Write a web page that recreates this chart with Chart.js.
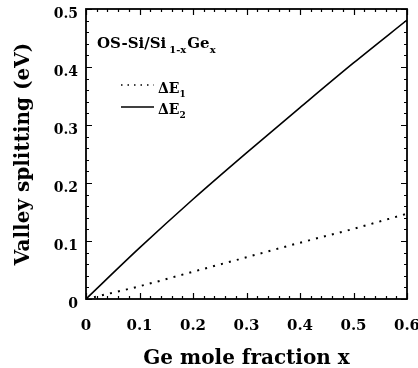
<!DOCTYPE html>
<html>
<head>
<meta charset="utf-8">
<script src="https://cdn.jsdelivr.net/npm/chart.js@4.4.1/dist/chart.umd.min.js"></script>
<style>
html, body { margin: 0; padding: 0; background: #fff; }
#wrap { width: 418px; height: 368px; position: relative; }
</style>
</head>
<body>
<div id="wrap"><canvas id="chart"></canvas></div>
<script>
// Ge mole fraction (x axis)
const geFraction = [0, 0.1, 0.2, 0.3, 0.4, 0.5, 0.6];
// valley splitting in eV: dE1 dotted, dE2 solid
const deltaE1 = [0, 0.022, 0.047, 0.072, 0.097, 0.121, 0.147];
const deltaE2 = [0, 0.088, 0.172, 0.252, 0.330, 0.407, 0.481];
const xTicks = [0, 0.1, 0.2, 0.3, 0.4, 0.5, 0.6];
const yTicks = [0, 0.1, 0.2, 0.3, 0.4, 0.5];

const SERIF = '"DejaVu Serif", "Liberation Serif", serif';

function toPoints(xs, ys) {
    return xs.map((x, i) => ({ x: x, y: ys[i] }));
}

// draw text with subscripts: runs of [text, size, dy, gap]
function drawRuns(ctx, x, y, runs) {
    runs.forEach(r => {
        ctx.font = 'bold ' + r[1] + 'px ' + SERIF;
        ctx.fillText(r[0], x, y + r[2]);
        x += ctx.measureText(r[0]).width + (r[3] || 0);
    });
}

// frame, inward ticks, legend and label inside plot
const framePlugin = {
    id: 'framePlugin',
    afterDraw(chart) {
        const { ctx, chartArea: a, scales: { x, y } } = chart;
        ctx.save();
        ctx.strokeStyle = '#000';
        ctx.lineWidth = 1.2;
        ctx.beginPath();
        for (let i = 0; i <= 30; i++) {
            const px = Math.round(x.getPixelForValue(i * 0.02)) + 0.5;
            const len = i % 5 === 0 ? 6 : 3;
            ctx.moveTo(px, a.bottom); ctx.lineTo(px, a.bottom - len);
            ctx.moveTo(px, a.top); ctx.lineTo(px, a.top + len);
        }
        for (let i = 0; i <= 25; i++) {
            const py = Math.round(y.getPixelForValue(i * 0.02)) + 0.5;
            const len = i % 5 === 0 ? 6 : 3;
            ctx.moveTo(a.left, py); ctx.lineTo(a.left + len, py);
            ctx.moveTo(a.right, py); ctx.lineTo(a.right - len, py);
        }
        ctx.stroke();
        ctx.lineWidth = 1.8;
        ctx.strokeRect(a.left, a.top, a.width, a.height);

        // inner label
        ctx.fillStyle = '#000';
        ctx.textBaseline = 'alphabetic';
        ctx.textAlign = 'left';
        drawRuns(ctx, a.left + 11, a.top + 39, [
            ['OS-Si/Si', 15, 0, 3], ['1-x', 10, 5, 1], ['Ge', 15, 0], ['x', 10, 5]
        ]);

        // legend
        const lx0 = a.left + 35, lx1 = a.left + 68;
        ctx.lineWidth = 1.5;
        ctx.setLineDash([1.5, 5]);
        ctx.beginPath();
        ctx.moveTo(lx0, a.top + 76); ctx.lineTo(lx1, a.top + 76);
        ctx.stroke();
        ctx.setLineDash([]);
        ctx.beginPath();
        ctx.moveTo(lx0, a.top + 98); ctx.lineTo(lx1, a.top + 98);
        ctx.stroke();
        drawRuns(ctx, lx1 + 4, a.top + 84, [['\u0394E', 14, 0], ['1', 9, 4]]);
        drawRuns(ctx, lx1 + 4, a.top + 105, [['\u0394E', 14, 0], ['2', 9, 4]]);
        ctx.restore();
    }
};

new Chart(document.getElementById('chart'), {
    type: 'line',
    data: {
        datasets: [
            {
                label: '\u0394E1',
                data: toPoints(geFraction, deltaE1),
                borderColor: '#000',
                borderWidth: 2,
                borderDash: [2, 6.2],
                pointRadius: 0,
                cubicInterpolationMode: 'monotone',
                fill: false
            },
            {
                label: '\u0394E2',
                data: toPoints(geFraction, deltaE2),
                borderColor: '#000',
                borderWidth: 1.6,
                pointRadius: 0,
                cubicInterpolationMode: 'monotone',
                fill: false
            }
        ]
    },
    options: {
        responsive: true,
        maintainAspectRatio: false,
        animation: false,
        events: [],
        layout: { padding: { left: 0, top: 9, right: 11, bottom: 0 } },
        plugins: { legend: { display: false }, tooltip: { enabled: false } },
        scales: {
            x: {
                type: 'linear',
                min: 0,
                max: 0.6,
                afterBuildTicks: s => { s.ticks = xTicks.map(v => ({ value: v })); },
                afterFit: s => { s.height = 69; s.paddingLeft = 0; s.paddingRight = 0; },
                grid: { display: false, drawTicks: false },
                border: { display: false },
                ticks: {
                    color: '#000',
                    padding: 18,
                    maxRotation: 0,
                    autoSkip: false,
                    font: { family: SERIF, size: 15, weight: 'bold' }
                },
                title: {
                    display: true,
                    text: 'Ge mole fraction x',
                    color: '#000',
                    padding: { top: 0, bottom: -3 },
                    font: { family: SERIF, size: 20, weight: 'bold' }
                }
            },
            y: {
                type: 'linear',
                min: 0,
                max: 0.5,
                afterBuildTicks: s => { s.ticks = yTicks.map(v => ({ value: v })); },
                afterFit: s => { s.width = 86; s.paddingTop = 0; s.paddingBottom = 0; },
                grid: { display: false, drawTicks: false },
                border: { display: false },
                ticks: {
                    color: '#000',
                    padding: 8,
                    labelOffset: 5,
                    autoSkip: false,
                    font: { family: SERIF, size: 14, weight: 'bold' }
                },
                title: {
                    display: true,
                    text: 'Valley splitting (eV)',
                    color: '#000',
                    padding: { top: 12, bottom: 0 },
                    font: { family: SERIF, size: 20, weight: 'bold' }
                }
            }
        }
    },
    plugins: [framePlugin]
});
</script>
</body>
</html>
